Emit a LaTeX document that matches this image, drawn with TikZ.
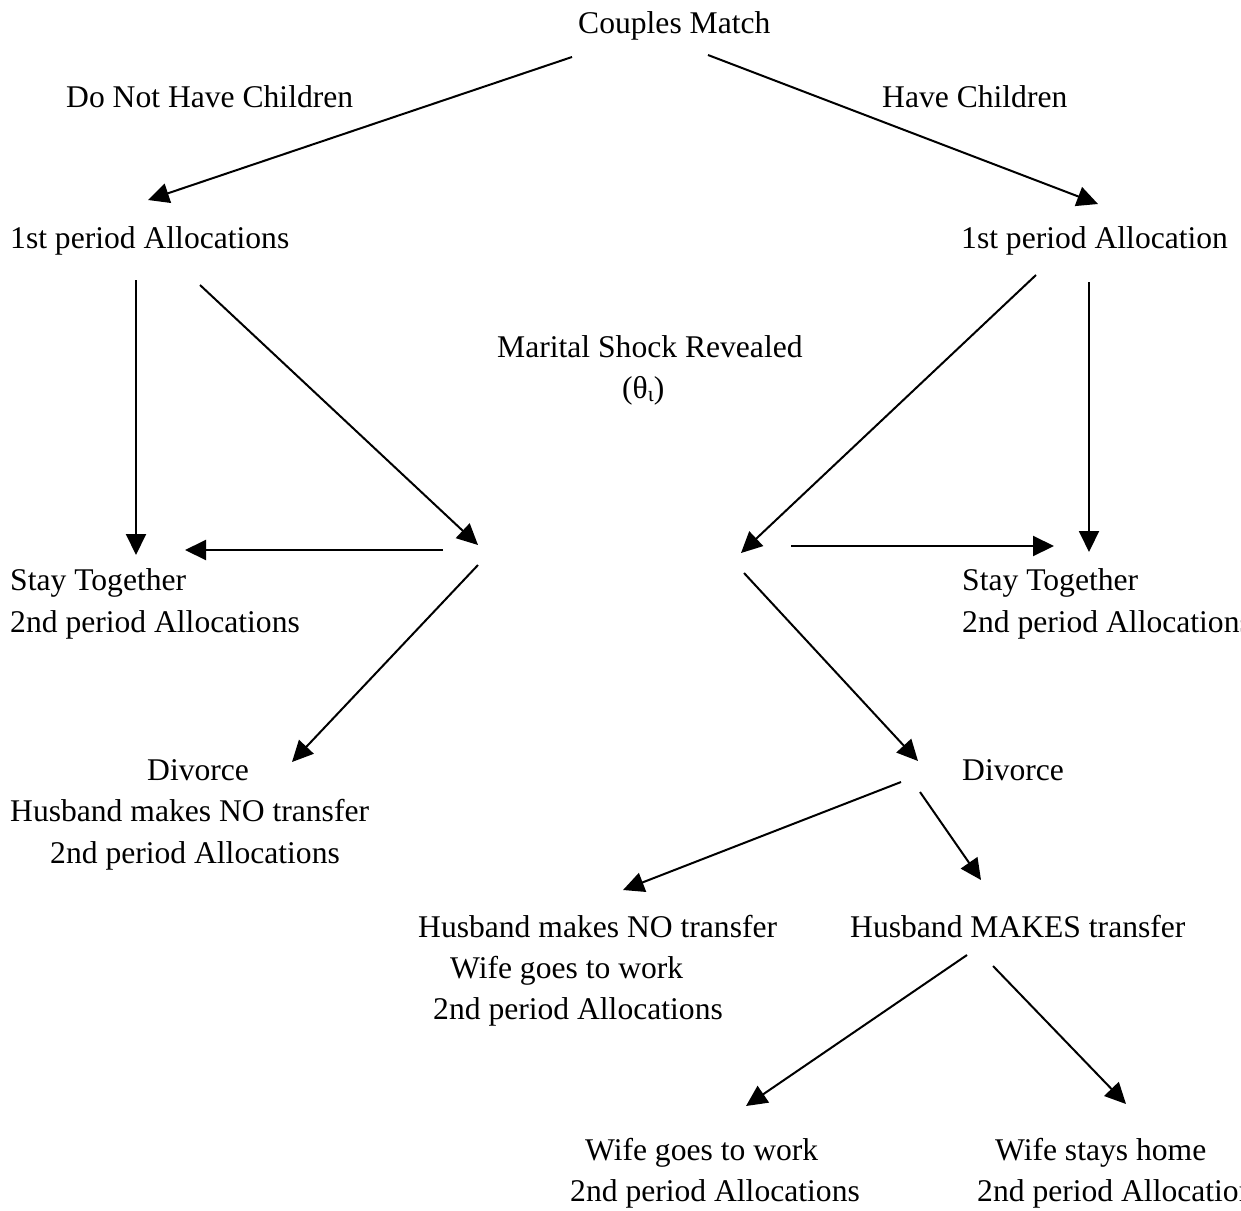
\documentclass[tikz,border=0pt]{standalone}
\usepackage{fontspec}
\setmainfont{Liberation Serif}
\usetikzlibrary{arrows.meta}
\begin{document}
\begin{tikzpicture}[x=1pt,y=-1pt,
  lbl/.style={inner sep=0pt,anchor=base west,font=\fontsize{31.6}{41.5}\selectfont},
  arr/.style={line width=2pt,-{Triangle[length=21pt,width=20pt]}}]
\useasboundingbox (0,0) rectangle (1241,1210);
% texts
\node[lbl] (cm) at (578,33) {Couples Match};
\node[lbl] (dnhc) at (66,107) {Do Not Have Children};
\node[lbl] (hc) at (882,107) {Have Children};
\node[lbl] (fpl) at (10,248) {1st period Allocations};
\node[lbl] (fpr) at (961,248) {1st period Allocation};
\node[lbl] (msr) at (497,357) {Marital Shock Revealed};
\node[lbl] (theta) at (622,398) {(θ\raisebox{-3pt}{\fontsize{22}{24}\selectfont ι})};
\node[lbl] (stl) at (10,590) {Stay Together};
\node[lbl] (stl2) at (10,632) {2nd period Allocations};
\node[lbl] (str) at (962,590) {Stay Together};
\node[lbl] (str2) at (962,632) {2nd period Allocations};
\node[lbl] (dvl) at (147,780) {Divorce};
\node[lbl] (dvl2) at (10,821) {Husband makes NO transfer};
\node[lbl] (dvl3) at (50,863) {2nd period Allocations};
\node[lbl] (dvr) at (962,780) {Divorce};
\node[lbl] (nt) at (418,937) {Husband makes NO transfer};
\node[lbl] (nt2) at (450,978) {Wife goes to work};
\node[lbl] (nt3) at (433,1019) {2nd period Allocations};
\node[lbl] (mt) at (850,937) {Husband MAKES transfer};
\node[lbl] (ww) at (585,1160) {Wife goes to work};
\node[lbl] (ww2) at (570,1201) {2nd period Allocations};
\node[lbl] (wh) at (995,1160) {Wife stays home};
\node[lbl] (wh2) at (977,1201) {2nd period Allocations};
% connector end points
\coordinate (a1s) at (572,57);   \coordinate (a1e) at (148,200);
\coordinate (a2s) at (708,55);   \coordinate (a2e) at (1098,204);
\coordinate (a3s) at (136,280);  \coordinate (a3e) at (136,555);
\coordinate (a4s) at (200,285);  \coordinate (a4e) at (478,545);
\coordinate (a5s) at (443,550);  \coordinate (a5e) at (185,550);
\coordinate (a6s) at (478,565);  \coordinate (a6e) at (292,762);
\coordinate (a7s) at (1036,275); \coordinate (a7e) at (741,553);
\coordinate (a8s) at (1089,282); \coordinate (a8e) at (1089,552);
\coordinate (a9s) at (791,546);  \coordinate (a9e) at (1054,546);
\coordinate (a10s) at (744,573); \coordinate (a10e) at (918,761);
\coordinate (a11s) at (901,782); \coordinate (a11e) at (623,890);
\coordinate (a12s) at (920,792); \coordinate (a12e) at (981,880);
\coordinate (a13s) at (967,955); \coordinate (a13e) at (746,1106);
\coordinate (a14s) at (993,966); \coordinate (a14e) at (1126,1104);
% connectors
\draw[arr] (a1s) -- (a1e);
\draw[arr] (a2s) -- (a2e);
\draw[arr] (a3s) -- (a3e);
\draw[arr] (a4s) -- (a4e);
\draw[arr] (a5s) -- (a5e);
\draw[arr] (a6s) -- (a6e);
\draw[arr] (a7s) -- (a7e);
\draw[arr] (a8s) -- (a8e);
\draw[arr] (a9s) -- (a9e);
\draw[arr] (a10s) -- (a10e);
\draw[arr] (a11s) -- (a11e);
\draw[arr] (a12s) -- (a12e);
\draw[arr] (a13s) -- (a13e);
\draw[arr] (a14s) -- (a14e);
\end{tikzpicture}
\end{document}
